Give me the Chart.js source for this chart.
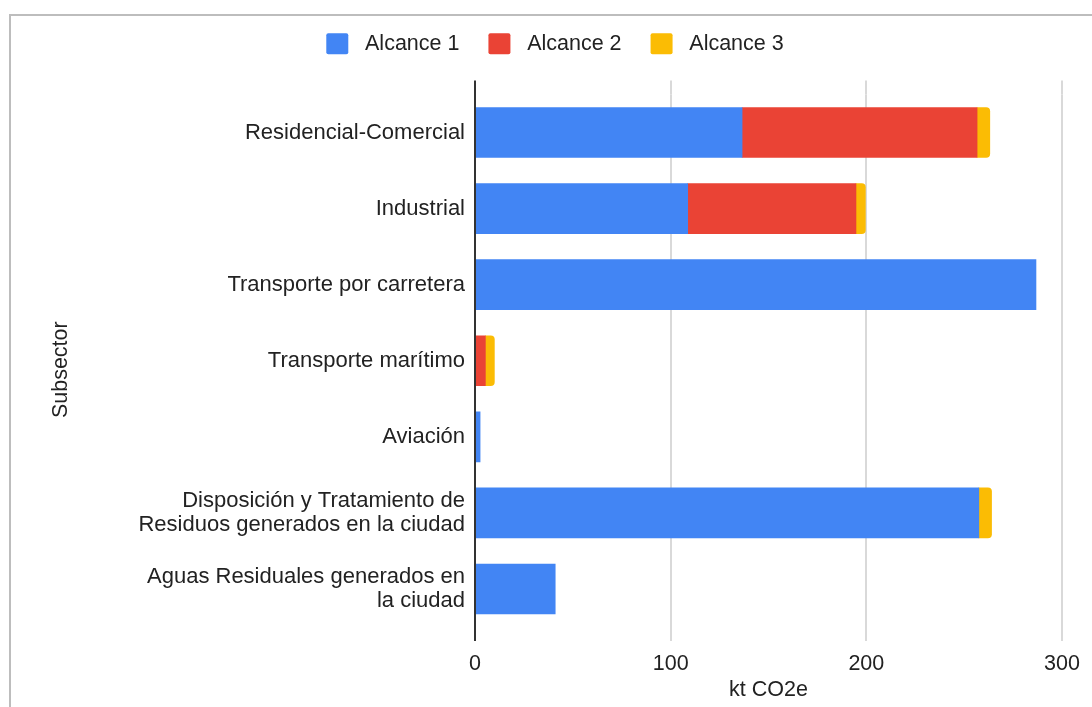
<!DOCTYPE html>
<html>
<head>
<meta charset="utf-8">
<script src="https://cdn.jsdelivr.net/npm/chart.js@4.4.1/dist/chart.umd.min.js"></script>
<style>
  html, body { margin: 0; padding: 0; background: #fff; width: 1092px; height: 707px; overflow: hidden; }
  #frame { position: absolute; left: 9px; top: 14px; width: 1200px; height: 800px;
           border-left: 2px solid #bdbdbd; border-top: 2px solid #bdbdbd; box-sizing: border-box; }
  #wrap { position: absolute; left: 0; top: 0; width: 1092px; height: 707px; }
</style>
</head>
<body>
<div id="frame"></div>
<div id="wrap"><canvas id="c" width="1092" height="707"></canvas></div>
<script>
// Emisiones por subsector (kt CO2e), apiladas por alcance
const subsectors = [
  'Residencial-Comercial',
  'Industrial',
  'Transporte por carretera',
  'Transporte marítimo',
  'Aviación',
  ['Disposición y Tratamiento de', 'Residuos generados en la ciudad'],
  ['Aguas Residuales generados en', 'la ciudad']
];
const alcance1 = [136.5, 108.7, 286.7, 0, 2.6, 257.5, 41.0];
const alcance2 = [120.1, 86.0, 0, 5.3, 0, 0, 0];
const alcance3 = [6.5, 4.8, 0, 4.6, 0, 6.5, 0];
const seriesNames = ['Alcance 1', 'Alcance 2', 'Alcance 3'];
const xTicks = [0, 100, 200, 300];
const xTitle = 'kt CO2e';
const yTitle = 'Subsector';

const FONT = "'Liberation Sans', Arial, sans-serif";
const TEXT = '#222222';
const GRID = '#d9d9d9';
const ZERO = '#333333';
const EXT = 14; // grid lines reach past the bar band

Chart.defaults.font.family = FONT;
Chart.defaults.color = TEXT;

// empty segments are left out so no hairline is drawn for them
const segment = arr => arr.map(v => (v === 0 ? null : v));

// Legend gets extra space below it before the plot starts
const legendSpacer = {
  id: 'legendSpacer',
  beforeLayout(chart) {
    const lg = chart.legend;
    if (lg && !lg._spacerPatched) {
      const orig = lg.fit;
      lg.fit = function () { orig.call(this); this.height += 30; };
      lg._spacerPatched = true;
    }
  }
};

// Vertical grid lines continue above the first bar; the zero line sits on top of the bars
const gridExtend = {
  id: 'gridExtend',
  beforeDatasetsDraw(chart) {
    const { ctx, chartArea } = chart;
    const x = chart.scales.x;
    ctx.save();
    ctx.lineWidth = 2;
    x.ticks.forEach(t => {
      if (t.value === 0) return;
      const px = Math.round(x.getPixelForValue(t.value));
      ctx.strokeStyle = GRID;
      ctx.beginPath();
      ctx.moveTo(px, chartArea.top - EXT);
      ctx.lineTo(px, chartArea.top);
      ctx.stroke();
    });
    ctx.restore();
  },
  afterDatasetsDraw(chart) {
    const { ctx, chartArea } = chart;
    const x = chart.scales.x;
    const px = Math.round(x.getPixelForValue(0));
    ctx.save();
    ctx.lineWidth = 2;
    ctx.strokeStyle = ZERO;
    ctx.beginPath();
    ctx.moveTo(px, chartArea.top - EXT);
    ctx.lineTo(px, chartArea.bottom + EXT);
    ctx.stroke();
    ctx.restore();
  }
};

new Chart(document.getElementById('c'), {
  type: 'bar',
  data: {
    labels: subsectors,
    datasets: [
      { label: seriesNames[0], data: segment(alcance1), backgroundColor: '#4285F4', borderWidth: 0 },
      { label: seriesNames[1], data: segment(alcance2), backgroundColor: '#EA4335', borderWidth: 0 },
      { label: seriesNames[2], data: segment(alcance3), backgroundColor: '#FBBC04', borderWidth: 0, borderRadius: 4 }
    ]
  },
  options: {
    indexAxis: 'y',
    responsive: false,
    animation: false,
    devicePixelRatio: 1,
    barThickness: 50,
    layout: { padding: { left: 48, right: 30, top: 4, bottom: 4 } },
    plugins: {
      tooltip: { enabled: false },
      legend: {
        position: 'top',
        align: 'center',
        labels: {
          boxWidth: 22,
          boxHeight: 21,
          padding: 29,
          useBorderRadius: true,
          borderRadius: 2,
          color: TEXT,
          font: { size: 21.5, family: FONT },
          generateLabels(chart) {
            return Chart.defaults.plugins.legend.labels.generateLabels(chart)
              .map(item => Object.assign(item, { text: ' ' + item.text, lineWidth: 0 }));
          }
        }
      }
    },
    scales: {
      x: {
        stacked: true,
        min: 0,
        max: 300,
        afterBuildTicks(scale) { scale.ticks = xTicks.map(v => ({ value: v })); },
        afterFit(scale) { scale.height = 76; },
        ticks: {
          padding: 10.5,
          color: TEXT,
          font: { size: 21.5, family: FONT },
          maxRotation: 0
        },
        grid: {
          color: ctx => (ctx.tick && ctx.tick.value === 0) ? ZERO : GRID,
          tickColor: ctx => (ctx.tick && ctx.tick.value === 0) ? ZERO : GRID,
          lineWidth: 2,
          drawTicks: true,
          tickLength: EXT
        },
        border: { display: false },
        title: {
          display: true,
          text: xTitle,
          color: TEXT,
          font: { size: 21.5, family: FONT },
          padding: { top: 0, bottom: 0 }
        }
      },
      y: {
        stacked: true,
        afterFit(scale) { scale.width = 427; },
        ticks: {
          padding: 10,
          color: TEXT,
          font: { size: 22, family: FONT, lineHeight: 1.1 },
          autoSkip: false
        },
        grid: { display: false, drawTicks: false },
        border: { display: false },
        title: {
          display: true,
          text: yTitle + '   ',
          color: TEXT,
          font: { size: 21.5, family: FONT },
          padding: { top: 0, bottom: 0 }
        }
      }
    }
  },
  plugins: [legendSpacer, gridExtend]
});
</script>
</body>
</html>
